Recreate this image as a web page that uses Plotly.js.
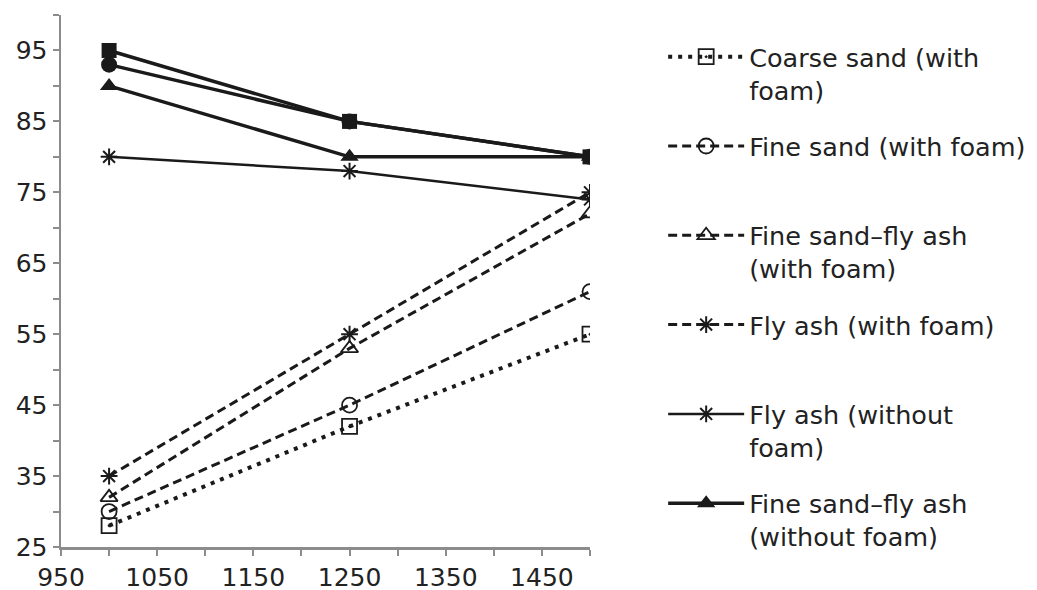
<!DOCTYPE html>
<html>
<head>
<meta charset="utf-8">
<script src="https://cdn.plot.ly/plotly-3.0.1.min.js"></script>
<style>html,body{margin:0;padding:0;background:#fff}#chart{width:1037px;height:590px}</style>
</head>
<body>
<div id="chart"></div>
<script>
const xValues = [1000, 1250, 1500];
const coarseSandFoam = [28, 42, 55];
const fineSandFoam = [30, 45, 61];
const fineSandFlyAshFoam = [32, 53, 72];
const flyAshFoam = [35, 55, 75];
const flyAshNoFoam = [80, 78, 74];
const fineSandFlyAshNoFoam = [90, 80, 80];
const extraSquareSeries = [95, 85, 80];
const extraCircleSeries = [93, 85, 80];

const seriesNames = [
  "Coarse sand (with<br>foam)",
  "Fine sand (with foam)<br>\u00a0",
  "Fine sand\u2013fly ash<br>(with foam)",
  "Fly ash (with foam)<br>\u00a0",
  "Fly ash (without<br>foam)",
  "Fine sand\u2013fly ash<br>(without foam)"
];

const xTickVals = [950, 1000, 1050, 1100, 1150, 1200, 1250, 1300, 1350, 1400, 1450, 1500];
const xTickText = ["950", "", "1050", "", "1150", "", "1250", "", "1350", "", "1450", ""];
const yTickVals = [25, 30, 35, 40, 45, 50, 55, 60, 65, 70, 75, 80, 85, 90, 95, 100];
const yTickText = ["25", "", "35", "", "45", "", "55", "", "65", "", "75", "", "85", "", "95", ""];

const ink = "#1a1a1a";
const fontFam = "DejaVu Sans, Verdana, sans-serif";

const traces = [
  {x: xValues, y: extraSquareSeries, mode: "lines+markers", showlegend: false,
   line: {color: ink, width: 3.5}, marker: {symbol: "square", size: 15, color: ink}},
  {x: xValues, y: extraCircleSeries, mode: "lines+markers", showlegend: false,
   line: {color: ink, width: 3.5}, marker: {symbol: "circle", size: 16, color: ink}},
  {x: xValues, y: coarseSandFoam, name: seriesNames[0], legendgroup: "g1", mode: "lines+markers",
   line: {color: ink, width: 4, dash: "4px,6px"},
   marker: {symbol: "square-open-dot", size: 15, color: ink, line: {width: 1.8, color: ink}}},
  {x: xValues, y: fineSandFoam, name: seriesNames[1], legendgroup: "g2", mode: "lines+markers",
   line: {color: ink, width: 3, dash: "9px,5px"},
   marker: {symbol: "circle-open", size: 15, color: ink, line: {width: 1.8, color: ink}}},
  {x: xValues, y: fineSandFlyAshFoam, name: seriesNames[2], legendgroup: "g3", mode: "lines+markers",
   line: {color: ink, width: 3, dash: "9px,5px"},
   marker: {symbol: "triangle-up-open", size: 15, color: ink, line: {width: 1.8, color: ink}}},
  {x: xValues, y: flyAshFoam, name: seriesNames[3], legendgroup: "g4", mode: "lines+markers",
   line: {color: ink, width: 3, dash: "9px,5px"},
   marker: {symbol: "asterisk-open", size: 14, color: ink, line: {width: 2, color: ink}}},
  {x: xValues, y: flyAshNoFoam, name: seriesNames[4], legendgroup: "g5", mode: "lines+markers",
   line: {color: ink, width: 2.5},
   marker: {symbol: "asterisk-open", size: 14, color: ink, line: {width: 2, color: ink}}},
  {x: xValues, y: fineSandFlyAshNoFoam, name: seriesNames[5], legendgroup: "g6", mode: "lines+markers",
   line: {color: ink, width: 3.5},
   marker: {symbol: "triangle-up", size: 16, color: ink}}
];

const layout = {
  width: 1037, height: 590,
  margin: {l: 61, r: 447, t: 15, b: 43},
  paper_bgcolor: "#fff", plot_bgcolor: "#fff",
  font: {family: fontFam, color: "#222"},
  xaxis: {
    range: [950, 1500], tickmode: "array", tickvals: xTickVals, ticktext: xTickText,
    showgrid: false, zeroline: false, showline: true, linecolor: "#8c8c8c", linewidth: 2.5,
    ticks: "outside", ticklen: 6, tickwidth: 2, tickcolor: "#8c8c8c",
    tickfont: {size: 25, color: "#222", family: fontFam}
  },
  yaxis: {
    range: [25, 100], tickmode: "array", tickvals: yTickVals, ticktext: yTickText,
    showgrid: false, zeroline: false, showline: true, linecolor: "#8c8c8c", linewidth: 2.5,
    ticks: "outside", ticklen: 6, tickwidth: 2, tickcolor: "#8c8c8c",
    tickfont: {size: 25, color: "#222", family: fontFam}
  },
  legend: {
    xref: "container", x: 0.6395, xanchor: "left", y: 0.965, yanchor: "top",
    valign: "top", itemwidth: 76, tracegroupgap: 20,
    font: {size: 25.5, color: "#222", family: fontFam}, bgcolor: "rgba(0,0,0,0)"
  },
  showlegend: true
};

Plotly.newPlot("chart", traces, layout, {displayModeBar: false, staticPlot: true});
</script>
</body>
</html>
